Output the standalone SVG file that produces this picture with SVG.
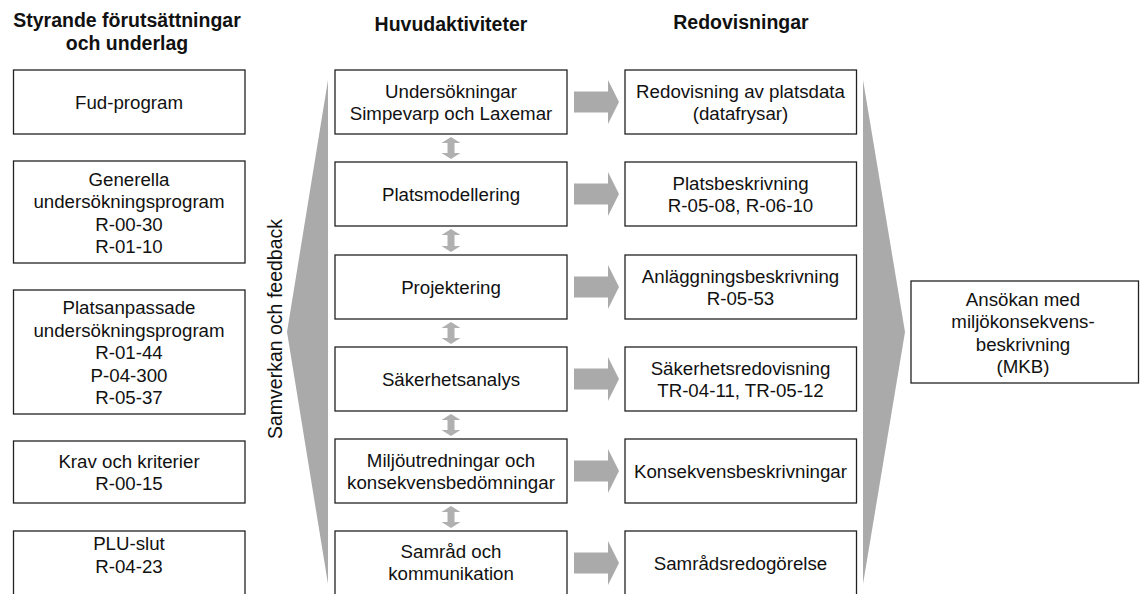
<svg xmlns="http://www.w3.org/2000/svg" width="1140" height="594" viewBox="0 0 1140 594">
<style>
.bg{fill:#ffffff}
.box{fill:#ffffff;stroke:#222222;stroke-width:1.3}
.t{font-family:"Liberation Sans",Arial,sans-serif;font-size:18.7px;fill:#111111;text-anchor:middle}
.h{font-family:"Liberation Sans",Arial,sans-serif;font-size:19.5px;font-weight:bold;fill:#111111;text-anchor:middle}
.v{font-family:"Liberation Sans",Arial,sans-serif;font-size:19.5px;fill:#111111;text-anchor:middle}
.wedge{fill:#aaaaaa}
.arr{fill:#aaaaaa}
.darr{fill:#b0b0b0}
</style>
<rect class="bg" x="0" y="0" width="1140" height="594"/>

<g id="headings">
<text class="h" x="127" y="27">Styrande förutsättningar</text>
<text class="h" x="127" y="50">och underlag</text>
<text class="h" x="451" y="31">Huvudaktiviteter</text>
<text class="h" x="741" y="29">Redovisningar</text>
</g>

<g id="wedges">
<polygon class="wedge" points="328,80 328,584 287,332"/>
<polygon class="wedge" points="863,80 863,584 905,332"/>
<text class="v" transform="translate(281.5,329) rotate(-90)">Samverkan och feedback</text>
</g>

<g id="connectors">
<polygon class="arr" points="574,91.5 608,91.5 608,80 619,102 608,124 608,112.5 574,112.5"/>
<polygon class="arr" points="574,183.5 608,183.5 608,172 619,194 608,216 608,204.5 574,204.5"/>
<polygon class="arr" points="574,276.5 608,276.5 608,265 619,287 608,309 608,297.5 574,297.5"/>
<polygon class="arr" points="574,368.5 608,368.5 608,357 619,379 608,401 608,389.5 574,389.5"/>
<polygon class="arr" points="574,460.5 608,460.5 608,449 619,471 608,493 608,481.5 574,481.5"/>
<polygon class="arr" points="574,552.5 608,552.5 608,541 619,563 608,585 608,573.5 574,573.5"/>
<polygon class="darr" points="451,137 460.5,143 454.5,143 454.5,153 460.5,153 451,159 441.5,153 447.5,153 447.5,143 441.5,143"/>
<polygon class="darr" points="451,229 460.5,235 454.5,235 454.5,246 460.5,246 451,252 441.5,246 447.5,246 447.5,235 441.5,235"/>
<polygon class="darr" points="451,322 460.5,328 454.5,328 454.5,338 460.5,338 451,344 441.5,338 447.5,338 447.5,328 441.5,328"/>
<polygon class="darr" points="451,414 460.5,420 454.5,420 454.5,430 460.5,430 451,436 441.5,430 447.5,430 447.5,420 441.5,420"/>
<polygon class="darr" points="451,506 460.5,512 454.5,512 454.5,522 460.5,522 451,528 441.5,522 447.5,522 447.5,512 441.5,512"/>
</g>

<g id="n-fud">
<rect class="box" x="13.5" y="70" width="231.5" height="64"/>
<text class="t" x="129" y="108.5">Fud-program</text>
</g>
<g id="n-generella">
<rect class="box" x="13.5" y="161" width="231.5" height="102"/>
<text class="t" x="129" y="185.5">Generella</text>
<text class="t" x="129" y="208">undersökningsprogram</text>
<text class="t" x="129" y="230.5">R-00-30</text>
<text class="t" x="129" y="253">R-01-10</text>
</g>
<g id="n-platsanpassade">
<rect class="box" x="13.5" y="290" width="231.5" height="124"/>
<text class="t" x="129" y="314">Platsanpassade</text>
<text class="t" x="129" y="336.5">undersökningsprogram</text>
<text class="t" x="129" y="359">R-01-44</text>
<text class="t" x="129" y="381.5">P-04-300</text>
<text class="t" x="129" y="404">R-05-37</text>
</g>
<g id="n-krav">
<rect class="box" x="13.5" y="441" width="231.5" height="62"/>
<text class="t" x="129" y="467.5">Krav och kriterier</text>
<text class="t" x="129" y="490">R-00-15</text>
</g>
<g id="n-plu">
<rect class="box" x="13.5" y="531" width="231.5" height="70"/>
<text class="t" x="129" y="550">PLU-slut</text>
<text class="t" x="129" y="572.5">R-04-23</text>
</g>

<g id="n-undersokningar">
<rect class="box" x="335" y="70" width="232" height="64"/>
<text class="t" x="451" y="97.5">Undersökningar</text>
<text class="t" x="451" y="120">Simpevarp och Laxemar</text>
</g>
<g id="n-platsmodellering">
<rect class="box" x="335" y="162" width="232" height="64"/>
<text class="t" x="451" y="200.5">Platsmodellering</text>
</g>
<g id="n-projektering">
<rect class="box" x="335" y="255" width="232" height="64"/>
<text class="t" x="451" y="293.5">Projektering</text>
</g>
<g id="n-sakerhetsanalys">
<rect class="box" x="335" y="347" width="232" height="64"/>
<text class="t" x="451" y="385.5">Säkerhetsanalys</text>
</g>
<g id="n-miljo">
<rect class="box" x="335" y="439" width="232" height="64"/>
<text class="t" x="451" y="466.5">Miljöutredningar och</text>
<text class="t" x="451" y="489">konsekvensbedömningar</text>
</g>
<g id="n-samrad">
<rect class="box" x="335" y="531" width="232" height="70"/>
<text class="t" x="451" y="557.5">Samråd och</text>
<text class="t" x="451" y="580">kommunikation</text>
</g>

<g id="n-platsdata">
<rect class="box" x="625" y="70" width="231.5" height="64"/>
<text class="t" x="740.5" y="97.5">Redovisning av platsdata</text>
<text class="t" x="740.5" y="120">(datafrysar)</text>
</g>
<g id="n-platsbeskrivning">
<rect class="box" x="625" y="162" width="231.5" height="64"/>
<text class="t" x="740.5" y="189.5">Platsbeskrivning</text>
<text class="t" x="740.5" y="212">R-05-08, R-06-10</text>
</g>
<g id="n-anlaggning">
<rect class="box" x="625" y="255" width="231.5" height="64"/>
<text class="t" x="740.5" y="282.5">Anläggningsbeskrivning</text>
<text class="t" x="740.5" y="305">R-05-53</text>
</g>
<g id="n-sakerhetsredovisning">
<rect class="box" x="625" y="347" width="231.5" height="64"/>
<text class="t" x="740.5" y="374.5">Säkerhetsredovisning</text>
<text class="t" x="740.5" y="397">TR-04-11, TR-05-12</text>
</g>
<g id="n-konsekvens">
<rect class="box" x="625" y="439" width="231.5" height="64"/>
<text class="t" x="740.5" y="477.5">Konsekvensbeskrivningar</text>
</g>
<g id="n-samradsredogorelse">
<rect class="box" x="625" y="531" width="231.5" height="70"/>
<text class="t" x="740.5" y="569.5">Samrådsredogörelse</text>
</g>

<g id="n-mkb">
<rect class="box" x="911" y="281" width="227.5" height="102"/>
<text class="t" x="1023" y="305.5">Ansökan med</text>
<text class="t" x="1023" y="328">miljökonsekvens-</text>
<text class="t" x="1023" y="350.5">beskrivning</text>
<text class="t" x="1023" y="373">(MKB)</text>
</g>
</svg>
